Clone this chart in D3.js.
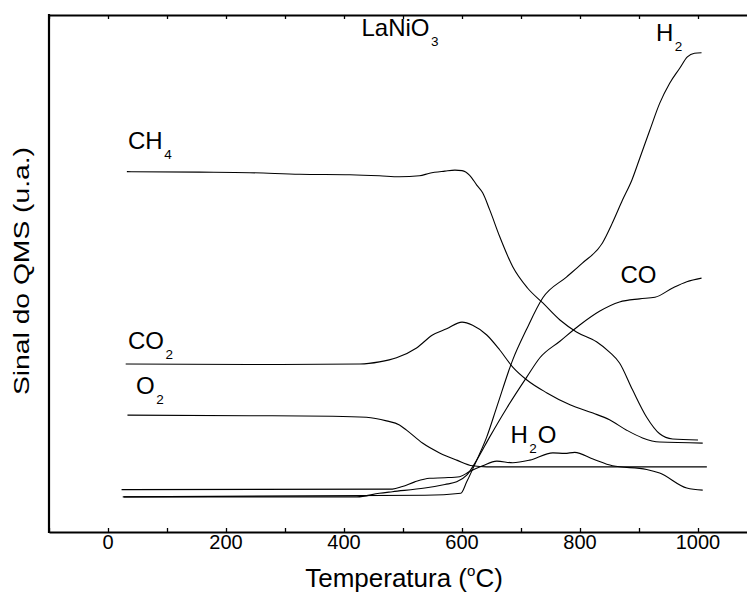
<!DOCTYPE html>
<html>
<head>
<meta charset="utf-8">
<script src="https://cdn.jsdelivr.net/npm/d3@7"></script>
<style>
  body { margin: 0; background: #fff; }
  svg { display: block; }
  text { font-family: "Liberation Sans", Arial, sans-serif; fill: #000; }
</style>
</head>
<body>
<svg id="chart" width="747" height="593"></svg>
<script>
// Temperature ticks (°C)
const xTickLabels = [0, 200, 400, 600, 800, 1000];
const xTickMarks = [-100, 0, 100, 200, 300, 400, 500, 600, 700, 800, 900, 1000, 1100];

// QMS signal traces, [temperature °C, signal (a.u.)]
const ch4 = [[32,69.7],[155,69.6],[240,69.5],[325,69.2],[410,69.1],[460,68.9],[494,68.7],[528,68.9],[545,69.4],[571,69.8],[588,70.0],[600,69.9],[613,69.0],[625,67.1],[635,65.6],[647,62.3],[664,57.1],[686,51.3],[711,47.2],[737,44.3],[766,41.0],[794,38.7],[828,36.8],[850,34.8],[867,32.7],[889,27.5],[913,22.2],[935,19.0],[957,18.0],[1000,17.8]];
const co2 = [[30,32.5],[240,32.4],[427,32.5],[460,32.9],[489,33.7],[523,35.6],[550,38.1],[574,39.3],[600,40.6],[618,40.0],[642,38.1],[664,35.2],[686,31.9],[710,29.4],[744,26.9],[783,24.6],[822,23.0],[850,21.7],[879,19.7],[906,18.2],[935,17.4],[1008,17.2]];
const o2 = [[33,22.6],[240,22.5],[381,22.4],[438,22.2],[472,21.5],[494,20.7],[506,19.7],[533,17.2],[562,15.3],[591,13.9],[618,12.8],[642,12.6],[1015,12.6]];
const h2o = [[23,8.2],[482,8.3],[499,8.8],[520,9.7],[545,10.4],[571,10.5],[596,10.7],[613,11.7],[635,12.8],[659,13.7],[686,13.4],[715,13.9],[754,15.3],[774,15.2],[791,15.4],[822,14.1],[855,12.8],[913,12.1],[935,11.4],[981,8.5],[1008,8.1]];
const co = [[25,6.8],[422,6.8],[460,7.5],[482,7.8],[537,8.5],[571,9.2],[591,9.7],[608,11.0],[625,13.9],[647,18.4],[676,24.0],[710,30.0],[732,33.7],[766,36.9],[799,40.0],[833,42.7],[867,44.5],[901,45.1],[927,45.4],[957,47.2],[981,48.4],[1006,49.1]];
const h2 = [[27,6.8],[537,7.1],[598,7.5],[608,9.7],[625,13.9],[642,18.4],[659,24.2],[686,33.3],[709,39.1],[737,45.3],[777,49.3],[804,52.0],[838,55.9],[855,59.8],[872,64.2],[888,68.1],[901,72.2],[918,77.6],[935,82.9],[952,86.8],[969,89.7],[982,91.9],[994,92.6],[1006,92.7]];

const traces = [ch4, co2, o2, h2o, co, h2];

// Curve labels: text pieces, flagged 1 when subscripted
const labels = [
  { parts: [["CH", 0], ["4", 1]], x: 128, y: 149 },
  { parts: [["CO", 0], ["2", 1]], x: 128, y: 349 },
  { parts: [["O", 0], ["2", 1]], x: 136, y: 394 },
  { parts: [["H", 0], ["2", 1], ["O", 0]], x: 510.5, y: 442.5 },
  { parts: [["CO", 0]], x: 620.5, y: 283 },
  { parts: [["H", 0], ["2", 1]], x: 656, y: 40.5 },
  { parts: [["LaNiO", 0], ["3", 1]], x: 361.5, y: 35.5 }
];

const plot = { left: 49, top: 15, bottom: 532, right: 757 };

const svg = d3.select("#chart");

const x = d3.scaleLinear().domain([-100, 1100]).range([plot.left, plot.right]);
const y = d3.scaleLinear().domain([0, 100]).range([plot.bottom, plot.top]);

// Frame: bottom and top axes with inward ticks, plain left axis
const bottomAxis = d3.axisBottom(x).tickValues(xTickMarks).tickSize(-4).tickSizeOuter(0).tickFormat("");
const topAxis = d3.axisTop(x).tickValues(xTickMarks).tickSize(-4).tickSizeOuter(0).tickFormat("");

const gb = svg.append("g").attr("transform", `translate(0,${plot.bottom})`).call(bottomAxis);
const gt = svg.append("g").attr("transform", `translate(0,${plot.top})`).call(topAxis);
[gb, gt].forEach(g => {
  g.select(".domain").attr("stroke", "#000").attr("stroke-width", 2.2);
  g.selectAll(".tick line").attr("stroke", "#000").attr("stroke-width", 1.3);
});
svg.append("line")
  .attr("x1", plot.left).attr("x2", plot.left)
  .attr("y1", plot.top - 1.1).attr("y2", plot.bottom + 1.1)
  .attr("stroke", "#000").attr("stroke-width", 2.2);

// Tick labels
svg.append("g").selectAll("text")
  .data(xTickLabels)
  .join("text")
  .attr("x", d => x(d))
  .attr("y", 549)
  .attr("text-anchor", "middle")
  .attr("font-size", 20)
  .text(d => d);

// Axis titles
const xt = svg.append("text")
  .attr("x", 404).attr("y", 587)
  .attr("text-anchor", "middle")
  .attr("font-size", 26);
xt.append("tspan").text("Temperatura (");
xt.append("tspan").attr("font-size", 15).attr("dy", -11).text("o");
xt.append("tspan").attr("dy", 11).text("C)");

svg.append("text")
  .attr("transform", "translate(29,271) rotate(-90)")
  .attr("text-anchor", "middle")
  .attr("font-size", 22)
  .attr("textLength", 248)
  .attr("lengthAdjust", "spacingAndGlyphs")
  .text("Sinal do QMS (u.a.)");

// Traces
const line = d3.line()
  .x(d => x(d[0]))
  .y(d => y(d[1]))
  .curve(d3.curveMonotoneX);

svg.append("g").selectAll("path")
  .data(traces)
  .join("path")
  .attr("d", line)
  .attr("fill", "none")
  .attr("stroke", "#000")
  .attr("stroke-width", 1.1)
  .attr("stroke-linejoin", "round");

// Curve labels with subscripts
labels.forEach(l => {
  const t = svg.append("text").attr("x", l.x).attr("y", l.y).attr("font-size", 24);
  let prevSub = 0;
  l.parts.forEach(([s, sub]) => {
    const ts = t.append("tspan").text(s);
    if (sub) {
      ts.attr("font-size", 13.5).attr("dx", 1.5).attr("dy", 10);
      prevSub = 1;
    } else if (prevSub) {
      ts.attr("dy", -10).attr("dx", 1);
      prevSub = 0;
    }
  });
});
</script>
</body>
</html>
